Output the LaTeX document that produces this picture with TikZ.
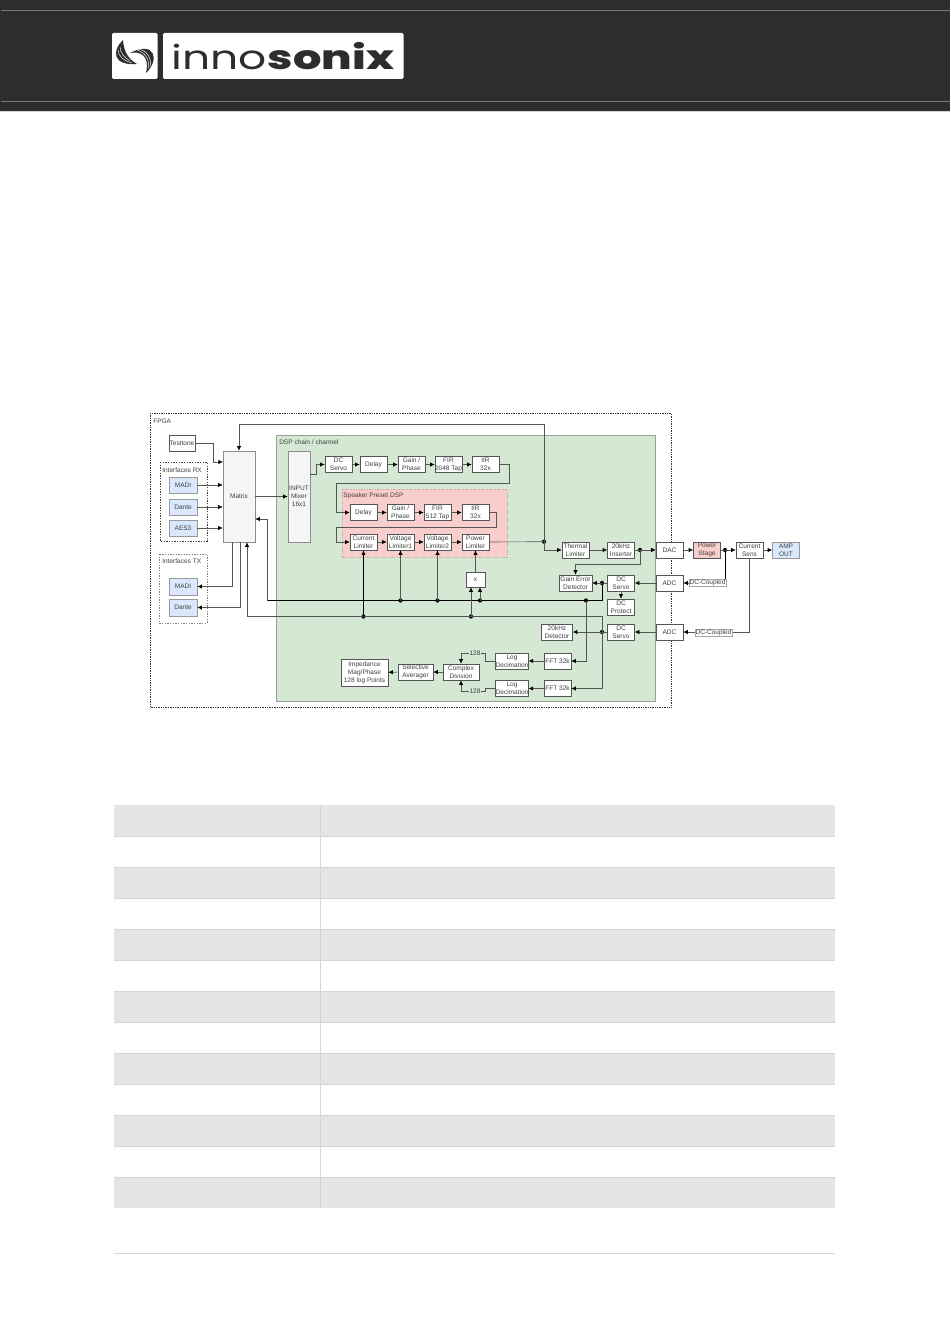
\documentclass[tikz,border=0pt]{standalone}
\usepackage{fontspec}
\setmainfont{Liberation Sans}
\newfontfamily\logothin{Poppins}
\newfontfamily\logobold{Poppins ExtraBold}
\usetikzlibrary{arrows.meta}
\definecolor{Header}{HTML}{2E2C2D}
\definecolor{HeaderLine}{HTML}{77777A}
\definecolor{RowGrey}{HTML}{E4E5E6}
\definecolor{RowLine}{HTML}{D4D5D6}
\definecolor{DspGreen}{HTML}{D5E8D4}
\definecolor{PresetRed}{HTML}{F8CECC}
\definecolor{PortBlue}{HTML}{DAE8FC}
\definecolor{Wire}{HTML}{555555}
\tikzset{
  blockfont/.style={font=\fontsize{4.9}{6}\selectfont,text=black!75},
  block/.style={draw=Wire,line width=0.4pt,fill=white,inner sep=0pt,align=center,
    minimum width=20.25pt,minimum height=12pt,blockfont},
  port/.style={block,fill=PortBlue,draw=black!40,minimum width=21pt},
  tall/.style={block,fill=black!4,draw=black!45,minimum height=68.25pt},
  framecap/.style={anchor=west,inner sep=0pt,blockfont},
  wire/.style={draw=Wire,line width=0.45pt,-{Latex[black,length=3.4pt,width=3.2pt]}},
  plainwire/.style={draw=Wire,line width=0.45pt},
  bus/.style={draw=black,line width=0.7pt},
  busarrow/.style={bus,-{Latex[black,length=3.4pt,width=3.2pt]}},
  jdot/.style={circle,fill=black,inner sep=0pt,minimum size=3.2pt},
  onwire/.style={inner sep=0.4pt,blockfont}
}
\newcommand{\drawblock}[4]{% Parameters: style, name, centre, label
  \node[#1] (#2) at (#3) {#4};
}
\newcommand{\drawjoint}[2]{% Parameters: name, position
  \node[jdot] (#1) at (#2) {};
}
\newcommand{\drawrow}[1]{% Parameter: top of shaded row
  \fill[RowGrey] (114,#1) rectangle (835,#1+31);
}
\begin{document}
\begin{tikzpicture}[x=0.75pt,y=-0.75pt]
  \useasboundingbox (0,0) rectangle (950,1344);
  % header
  \fill[Header] (0,0) rectangle (950,111);
  \draw[RowLine,line width=0.75pt] (0,111.5) -- (950,111.5);
  \draw[HeaderLine,line width=0.5pt] (1,10.5) -- (950,10.5);
  \draw[HeaderLine,line width=0.5pt] (1,101.5) -- (950,101.5);
  \fill[white,rounded corners=1pt] (112,33) rectangle (157.5,79);
  \fill[white,rounded corners=1pt] (163,33) rectangle (403.5,79);
  \fill[Header] (123,40) .. controls (112,50) and (112,66) .. (137,64) .. controls (130,60) and (124,54) .. (123,40);
  \fill[Header] (146,73) .. controls (160,60) and (155,40) .. (130,53) .. controls (140,51) and (150,55) .. (146,73);
  \draw[white,line width=0.35pt] (118,50) .. controls (118,56) and (124,61) .. (132,63);
  \draw[white,line width=0.35pt] (120,47) .. controls (120,53) and (125,58) .. (130,61);
  \draw[white,line width=0.35pt] (150,67) .. controls (152,58) and (147,51) .. (139,49);
  \draw[white,line width=0.35pt] (148,69) .. controls (150,60) and (146,53) .. (137,50);
  \node[anchor=base west,inner sep=0pt,text=Header,xscale=1.32] (logoa) at (171,70)
    {\fontsize{25}{25}\logothin inno};
  \node[anchor=base west,inner sep=0pt,text=Header,xscale=1.34] (logob) at (267.5,70)
    {\fontsize{25}{25}\logobold sonix};
  % frames
  \draw[black!80,densely dotted,line width=0.3pt] (150,413) rectangle (671,707);
  \draw[black!75,dash pattern=on 1pt off 1pt,line width=0.3pt] (160,462) rectangle (207,541);
  \draw[black!50,dash pattern=on 1pt off 1pt,line width=0.3pt] (159,554) rectangle (207,623);
  \draw[DspGreen!70!black,fill=DspGreen,line width=0.3pt] (276,435) rectangle (655,701);
  \draw[PresetRed!80!black,fill=PresetRed,dash pattern=on 1pt off 1pt,line width=0.3pt] (342,489) rectangle (507,557);
  \node[framecap] (fpgacap) at (153,421) {FPGA};
  \node[framecap] (rxcap) at (162,470) {Interfaces RX};
  \node[framecap] (txcap) at (162,561) {Interfaces TX};
  \node[framecap] (dspcap) at (279,442) {DSP chain / channel};
  \node[framecap] (presetcap) at (343,495.5) {Speaker Preset DSP};
  % blocks
  \drawblock{block,minimum width=19.5pt}{testtone}{182,443}{Testtone}
  \drawblock{port}{madirx}{183,485}{MADI}
  \drawblock{port}{danterx}{183,507}{Dante}
  \drawblock{port}{aesrx}{183,528}{AES3}
  \drawblock{port,minimum height=12.75pt}{maditx}{183,586.5}{MADI}
  \drawblock{port,minimum height=12.75pt}{dantetx}{183,607.5}{Dante}
  \drawblock{tall,minimum width=24pt}{matrix}{239,496.5}{Matrix}
  \drawblock{tall,minimum width=16.5pt}{inmixer}{299,496.5}{INPUT\\Mixer\\16x1}
  \drawblock{block}{servoa}{338.5,464.5}{DC\\Servo}
  \drawblock{block}{delaya}{373.5,464.5}{Delay}
  \drawblock{block}{gaina}{411.5,464.5}{Gain /\\Phase}
  \drawblock{block}{fira}{448.5,464.5}{FIR\\2048 Tap}
  \drawblock{block}{iira}{485.5,464.5}{IIR\\32x}
  \drawblock{block}{delayb}{363.5,512.5}{Delay}
  \drawblock{block}{gainb}{400.5,512.5}{Gain /\\Phase}
  \drawblock{block}{firb}{437.5,512.5}{FIR\\512 Tap}
  \drawblock{block}{iirb}{475.5,512.5}{IIR\\32x}
  \drawblock{block}{curlim}{363.5,542}{Current\\Limiter}
  \drawblock{block}{vlima}{400.5,542}{Voltage\\Limiter1}
  \drawblock{block}{vlimb}{437.5,542}{Voltage\\Limiter2}
  \drawblock{block}{powlim}{475.5,542}{Power\\Limiter}
  \drawblock{block}{thermal}{575.5,550}{Thermal\\Limiter}
  \drawblock{block}{inserter}{621,550}{20kHz\\Inserter}
  \drawblock{block}{dac}{669.5,550}{DAC}
  \drawblock{block,fill=PresetRed}{stage}{707,550}{Power\\Stage}
  \drawblock{block}{cursens}{749.5,550}{Current\\Sens}
  \drawblock{block,fill=PortBlue,draw=black!40}{ampout}{786,550}{AMP\\OUT}
  \drawblock{block,minimum width=24.75pt}{gainerr}{575.5,583}{Gain Error\\Detector}
  \drawblock{block}{servob}{621,583}{DC\\Servo}
  \drawblock{block}{adca}{669.5,583}{ADC}
  \drawblock{block}{protect}{621,607}{DC\\Protect}
  \drawblock{block,minimum width=23.25pt}{detector}{557,632}{20kHz\\Detector}
  \drawblock{block}{servoc}{621,632}{DC\\Servo}
  \drawblock{block}{adcb}{669.5,632}{ADC}
  \drawblock{block}{ffta}{557.5,661}{FFT 32k}
  \drawblock{block}{fftb}{557.5,688.5}{FFT 32k}
  \drawblock{block,minimum width=24pt}{loga}{512,661}{Log\\Decimation}
  \drawblock{block,minimum width=24pt}{logb}{512,688.5}{Log\\Decimation}
  \drawblock{block,minimum width=27pt}{division}{461,672}{Complex\\Division}
  \drawblock{block,minimum width=26.25pt}{averager}{415.5,672}{Selective\\Averager}
  \drawblock{block,minimum width=35.25pt,minimum height=20.25pt}{impedance}{364.5,672.5}{Impedance\\Mag/Phase\\128 log Points}
  \drawblock{block,minimum width=14.25pt,minimum height=11.25pt}{multiply}{475.5,579.5}{x}
  % joints
  \coordinate (matrixin) at (267,519);
  \coordinate (matrixtest) at (223,462);
  \coordinate (matrixmadi) at (232,542);
  \coordinate (matrixdante) at (240,542);
  \coordinate (mixerout) at (310,474);
  \coordinate (toptap) at (239,424);
  \coordinate (errtap) at (575.5,564);
  \coordinate (stagetap) at (725,583);
  \coordinate (senseleft) at (247,616.5);
  \coordinate (senseright) at (602,616.5);
  % signal chain
  \draw[wire] (testtone.east) -- (213,443) -- (213,462) -- (matrixtest);
  \draw[wire] (madirx.east) -- (madirx.east -| matrix.west);
  \draw[wire] (danterx.east) -- (danterx.east -| matrix.west);
  \draw[wire] (aesrx.east) -- (aesrx.east -| matrix.west);
  \draw[wire] (matrix) -- (inmixer);
  \draw[wire] (mixerout) -- (316,474) -- (316,464.5) -- (servoa.west);
  \draw[wire] (servoa) -- (delaya);
  \draw[wire] (delaya) -- (gaina);
  \draw[wire] (gaina) -- (fira);
  \draw[wire] (fira) -- (iira);
  \draw[wire] (iira.east) -- (509,464.5) -- (509,483) -- (336,483) -- (336,512.5) -- (delayb.west);
  \draw[wire] (delayb) -- (gainb);
  \draw[wire] (gainb) -- (firb);
  \draw[wire] (firb) -- (iirb);
  \draw[wire] (iirb.east) -- (496,512.5) -- (496,527) -- (336,527) -- (336,542) -- (curlim.west);
  \draw[wire] (curlim) -- (vlima);
  \draw[wire] (vlima) -- (vlimb);
  \draw[wire] (vlimb) -- (powlim);
  \drawjoint{jlimit}{544,541.7}
  \drawjoint{jinsert}{640,550}
  \drawjoint{jstage}{725,550}
  \drawjoint{jservob}{602,583}
  \drawjoint{jservoc}{602,632}
  \drawjoint{jvlima}{400.5,600.5}
  \drawjoint{jvlimb}{437.5,600.5}
  \drawjoint{jmulta}{480,600.5}
  \drawjoint{jfft}{586,600.5}
  \drawjoint{jcur}{363.5,616.5}
  \drawjoint{jmultb}{471,616.5}
  \draw[plainwire] (powlim.east) -- (jlimit.center);
  \draw[wire] (jlimit.center) |- (thermal.west);
  \draw[wire] (jlimit.center) |- (toptap) -- (matrix.north);
  \draw[wire] (thermal) -- (inserter);
  \draw[plainwire] (inserter.east) -- (jinsert.center);
  \draw[wire] (jinsert.center) -- (dac.west);
  \draw[wire] (jinsert.center) |- (errtap) -- (gainerr.north);
  \draw[wire] (dac) -- (stage);
  \draw[plainwire] (stage.east) -- (jstage.center);
  \draw[wire] (jstage.center) -- (cursens.west);
  \draw[wire] (cursens) -- (ampout);
  \draw[bus] (jstage.center) -- (stagetap);
  \draw[wire] (stagetap) -- (adca.east);
  \draw[wire] (cursens.south) |- (adcb.east);
  \draw[wire] (adca) -- (servob);
  \draw[plainwire] (servob.west) -- (jservob.center);
  \draw[wire] (jservob.center) -- (gainerr.east);
  \draw[wire] (servob) -- (protect);
  \draw[wire] (adcb) -- (servoc);
  \draw[plainwire] (servoc.west) -- (jservoc.center);
  \draw[wire] (jservoc.center) -- (detector.east);
  % busses
  \draw[bus] (jservob.center) |- (matrixin |- jfft);
  \draw[plainwire] (matrixin |- jfft) -- (matrixin);
  \draw[wire] (matrixin) -- (matrixin -| matrix.east);
  \draw[wire] (jvlima.center) -- (vlima.south);
  \draw[wire] (jvlimb.center) -- (vlimb.south);
  \draw[wire] (jmulta.center) -- (jmulta.center |- multiply.south);
  \draw[wire] (jfft.center) |- (ffta.east);
  \draw[plainwire] (senseleft) -- (senseright) -- (jservoc.center);
  \draw[wire] (senseleft) -- (senseleft |- matrix.south);
  \draw[busarrow] (jcur.center) -- (curlim.south);
  \draw[wire] (jmultb.center) -- (jmultb.center |- multiply.south);
  \draw[wire] (multiply.north) -- (powlim.south);
  \draw[wire] (jservoc.center) |- (fftb.east);
  \draw[wire] (matrixmadi) |- (maditx.east);
  \draw[wire] (matrixdante) |- (dantetx.east);
  % measurement path
  \draw[wire] (ffta) -- (loga);
  \draw[wire] (fftb) -- (logb);
  \draw[wire] (loga.west) -- (485,661) -- (485,653) -- (461,653) -- (division.north);
  \draw[wire] (logb.west) -- (485,688.5) -- (485,691) -- (461,691) -- (division.south);
  \draw[wire] (division) -- (averager);
  \draw[wire] (averager) -- (impedance);
  \node[onwire,fill=DspGreen] (widtha) at (475,653) {128};
  \node[onwire,fill=DspGreen] (widthb) at (475,691) {128};
  \node[onwire,fill=white,draw=black!35,line width=0.2pt] (couplea) at (707.5,583) {DC-Coupled};
  \node[onwire,fill=white,draw=black!35,line width=0.2pt] (coupleb) at (713.5,632.5) {DC-Coupled};
  % table
  \foreach \rowtop in {805,867,929,991,1053,1115,1177} {
    \drawrow{\rowtop}
  }
  \foreach \rowtop in {805,836,867,898,929,960,991,1022,1053,1084,1115,1146} {
    \draw[RowLine,line width=0.5pt] (114,\rowtop+31) -- (835,\rowtop+31);
  }
  \draw[RowLine,line width=0.5pt] (320.5,805) -- (320.5,1208);
  \draw[RowLine,line width=0.5pt] (114,1253.5) -- (835,1253.5);
\end{tikzpicture}
\end{document}
